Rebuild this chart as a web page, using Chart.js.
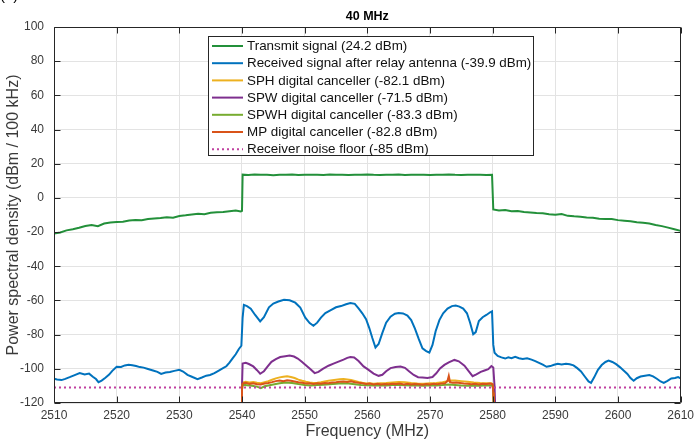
<!DOCTYPE html>
<html>
<head>
<meta charset="utf-8">
<script src="https://cdn.jsdelivr.net/npm/chart.js@4.4.0/dist/chart.umd.min.js"></script>
<style>
  html, body { margin: 0; padding: 0; background: #fff; }
</style>
</head>
<body>
<canvas id="psdChart" width="699" height="443"></canvas>
<script>
// series labels (legend order = plot order)
const seriesLabels = [
  'Transmit signal (24.2 dBm)',
  'Received signal after relay antenna (-39.9 dBm)',
  'SPH digital canceller (-82.1 dBm)',
  'SPW digital canceller (-71.5 dBm)',
  'SPWH digital canceller (-83.3 dBm)',
  'MP digital canceller (-82.8 dBm)',
  'Receiver noise floor (-85 dBm)'
];
const seriesColors = ['#23903a', '#0072bd', '#edb120', '#7e2f8e', '#77ac30', '#d95319', '#c040a0'];

// transmit signal
const txFreq = [2510, 2511, 2512, 2513, 2514, 2515, 2516, 2517, 2518, 2519, 2520, 2521, 2522, 2523, 2524, 2525,
  2526, 2527, 2528, 2529, 2530, 2531, 2532, 2533, 2534, 2535, 2536, 2537, 2538, 2539, 2539.8, 2540.0,
  2540.1, 2541, 2542, 2543, 2544, 2545, 2546, 2547, 2548, 2549, 2550, 2551, 2552, 2553, 2554, 2555, 2556,
  2557, 2558, 2559, 2560, 2561, 2562, 2563, 2564, 2565, 2566, 2567, 2568, 2569, 2570, 2571, 2572, 2573,
  2574, 2575, 2576, 2577, 2578, 2579, 2579.9, 2580.1, 2581, 2582, 2583, 2584, 2585, 2586, 2587, 2588,
  2589, 2590, 2591, 2592, 2593, 2594, 2595, 2596, 2597, 2598, 2599, 2600, 2601, 2602, 2603, 2604, 2605,
  2606, 2607, 2608, 2609, 2610];
const txPsd = [-20.8, -20.2, -19.0, -18.3, -17.5, -16.4, -15.8, -16.6, -15.0, -14.4, -14.1, -13.9, -13.2, -12.9, -13.1, -12.4,
  -12.0, -11.8, -11.3, -11.6, -10.6, -10.2, -9.7, -9.3, -9.5, -8.7, -8.4, -8.2, -7.8, -7.4, -7.9, -7.6,
  13.6, 13.4, 13.7, 13.5, 13.6, 13.3, 13.6, 13.5, 13.7, 13.4, 13.6, 13.5, 13.6, 13.4, 13.7, 13.5, 13.6,
  13.4, 13.6, 13.5, 13.7, 13.5, 13.4, 13.6, 13.5, 13.7, 13.4, 13.6, 13.5, 13.6, 13.4, 13.6, 13.5, 13.7,
  13.5, 13.4, 13.6, 13.5, 13.6, 13.4, 13.5, -6.8, -7.4, -7.1, -7.8, -7.6, -8.3, -8.6, -8.9, -9.0,
  -9.6, -9.9, -9.4, -10.5, -10.8, -11.0, -11.4, -11.6, -12.2, -12.4, -12.3, -13.0, -13.3, -13.6, -14.2, -14.6, -15.0,
  -15.9, -16.5, -17.4, -18.3, -19.3];

// received signal after relay antenna
const rxFreq = [2510, 2510.5, 2511.2, 2511.8, 2512.5, 2513.2, 2514.1, 2514.9, 2515.6, 2516.2, 2516.7, 2517.1, 2517.6,
  2518.2, 2518.8, 2519.3, 2520, 2520.7, 2521.3, 2521.9, 2522.5, 2523.1, 2523.7, 2524.3, 2525, 2525.8, 2526.5,
  2527.1, 2527.8, 2528.5, 2529.2, 2530, 2530.6, 2531.3, 2532.1, 2532.9, 2533.6, 2534.3, 2534.9, 2535.6,
  2536.3, 2536.9, 2537.5, 2538, 2538.5, 2539, 2539.5, 2539.9, 2540.1, 2540.3, 2540.8, 2541.4, 2542.1,
  2542.9, 2543.5, 2544.3, 2545, 2545.8, 2546.7, 2547.6, 2548.5, 2549.3, 2550.1, 2550.8, 2551.4, 2552,
  2552.6, 2553.3, 2554.1, 2555, 2555.8, 2556.6, 2557.3, 2558, 2558.6, 2559.2, 2559.8, 2560.3, 2560.8,
  2561.3, 2561.8, 2562.4, 2563, 2563.7, 2564.4, 2565, 2565.7, 2566.4, 2567, 2567.6, 2568.2, 2568.8,
  2569.4, 2569.9, 2570.4, 2570.9, 2571.5, 2572.1, 2572.8, 2573.5, 2574.1, 2574.7, 2575.3, 2575.9,
  2576.4, 2576.9, 2577.3, 2577.8, 2578.4, 2579, 2579.6, 2579.9, 2580.1, 2580.3, 2580.8, 2581.4, 2582,
  2582.5, 2583, 2583.6, 2584.2, 2584.8, 2585.5, 2586.2, 2586.8, 2587.4, 2588, 2588.6, 2589.2, 2589.8,
  2590.4, 2591, 2591.7, 2592.3, 2592.9, 2593.5, 2594.1, 2594.7, 2595.3, 2595.7, 2596.2, 2596.8, 2597.4,
  2598, 2598.5, 2599.1, 2599.7, 2600.3, 2600.9, 2601.5, 2602, 2602.5, 2603, 2603.6, 2604.3, 2605,
  2605.6, 2606.2, 2606.8, 2607.3, 2607.9, 2608.5, 2609.1, 2609.6, 2610];
const rxPsd = [-105.8, -106.2, -106.6, -105.9, -104.9, -103.8, -102.5, -103.3, -102.8, -104.6, -106.0, -107.8, -106.9,
  -105.2, -103.4, -101.2, -98.8, -98.9, -98.0, -97.6, -97.9, -98.4, -99.0, -99.3, -100.1, -101.0, -101.8,
  -103.0, -102.2, -101.9, -101.2, -100.6, -101.6, -103.5, -104.8, -106.0, -105.1, -104.0, -103.6, -102.5,
  -101.0, -99.8, -98.5, -96.4, -93.9, -91.5, -88.4, -86.5, -70.0, -62.6, -63.3, -64.8, -68.5,
  -72.3, -69.8, -64.0, -61.8, -60.6, -59.6, -59.9, -61.3, -64.2, -70.1, -73.2, -74.8, -73.0,
  -70.0, -67.4, -65.8, -64.0, -63.3, -62.2, -61.5, -62.0, -64.6, -67.5, -71.0, -76.0, -82.0,
  -87.5, -85.5, -79.0, -73.0, -69.5, -67.8, -67.3, -67.6, -68.8, -71.5, -76.5, -82.5, -88.0,
  -89.6, -90.5, -86.0, -78.0, -71.5, -67.5, -64.8, -63.3, -63.0, -63.6, -64.8, -67.5,
  -73.0, -79.8, -78.5, -72.0, -69.8, -68.5, -66.9, -66.4, -86.0, -90.6, -92.5, -93.3, -94.0,
  -93.3, -93.8, -93.0, -93.8, -94.2, -93.8, -94.6, -95.5, -96.5, -97.6, -98.8, -98.4, -97.6,
  -97.0, -97.4, -97.0, -97.3, -98.0, -99.6, -101.5, -104.5, -107.4, -108.2, -105.0, -100.6, -97.8,
  -96.0, -95.2, -96.0, -97.3, -99.0, -101.0, -103.0, -105.4, -107.0, -105.5, -104.5, -104.0, -103.6,
  -104.4, -105.8, -107.4, -108.2, -107.0, -105.6, -105.4, -104.8, -105.6];

// SPH digital canceller
const sphFreq = [2539.9, 2540.0, 2540.1, 2540.6, 2541.2, 2541.8, 2542.4, 2543, 2543.6, 2544.2, 2544.8, 2545.4, 2546,
  2546.6, 2547.2, 2547.8, 2548.4, 2549, 2549.6, 2550.2, 2550.8, 2551.4, 2552, 2552.6, 2553.2, 2553.8, 2554.4,
  2555, 2555.6, 2556.2, 2556.8, 2557.4, 2558, 2558.6, 2559.2, 2559.8, 2560.4, 2561, 2562, 2563, 2564, 2565,
  2566, 2567, 2568, 2569, 2570, 2571, 2572, 2572.8, 2573.4, 2574, 2575, 2576, 2577, 2578, 2579, 2579.8,
  2580.0, 2580.1, 2580.2];
const sphPsd = [-121, -112, -108.0, -107.6, -108.0, -107.7, -108.2, -108.4, -107.8, -107.2, -106.4, -105.6, -105.0,
  -104.6, -104.3, -104.8, -105.4, -106.3, -107.0, -107.6, -108.0, -108.3, -108.1, -107.8, -107.4, -107.0, -106.7,
  -106.4, -106.1, -105.9, -106.2, -106.6, -107.1, -107.7, -108.2, -108.6, -108.4, -108.7, -108.5, -108.3, -108.0, -107.7,
  -107.9, -108.3, -108.6, -108.8, -108.5, -108.3, -107.9, -107.3, -106.8, -106.9, -107.2, -107.6, -108.0, -108.3, -108.5, -108.4,
  -109, -114, -122];

// SPW digital canceller
const spwFreq = [2539.9, 2540.0, 2540.1, 2540.6, 2541.1, 2541.8, 2542.4, 2542.9, 2543.5, 2544.1, 2544.7, 2545.4, 2546.1,
  2546.9, 2547.6, 2548.3, 2548.9, 2549.5, 2550.1, 2550.8, 2551.6, 2552.2, 2552.9, 2553.8, 2554.6, 2555.4,
  2556.2, 2556.8, 2557.3, 2557.9, 2558.6, 2559.4, 2560.2, 2561, 2561.8, 2562.4, 2563, 2563.7, 2564.5,
  2565.3, 2566, 2566.7, 2567.4, 2568.1, 2568.8, 2569.6, 2570.4, 2571, 2571.6, 2572.3, 2573, 2573.9,
  2574.6, 2575.5, 2576.2, 2576.8, 2577.4, 2578.1, 2578.7, 2579.3, 2579.8, 2580.1, 2580.3, 2580.4];
const spwPsd = [-121, -110, -96.9, -96.5, -97.2, -98.6, -100.8, -102.9, -101.4, -98.6, -95.9, -94.3, -93.1,
  -92.6, -92.2, -92.8, -94.0, -95.7, -97.6, -99.8, -102.5, -101.8, -100.0, -98.2, -97.0, -95.8,
  -94.6, -93.6, -93.1, -93.4, -95.4, -98.6, -100.6, -102.8, -104.1, -103.5, -101.4, -99.6, -98.9,
  -98.6, -99.4, -101.6, -103.6, -104.9, -105.1, -105.4, -104.8, -102.6, -99.8, -97.7, -96.2, -94.8,
  -95.6, -98.2, -101.5, -104.3, -103.2, -101.8, -101.0, -100.2, -98.4, -99.2, -110, -122];

// SPWH digital canceller
const spwhFreq = [2539.9, 2540.0, 2540.1, 2540.8, 2541.6, 2542.4, 2543, 2543.6, 2544.4, 2545.2, 2546, 2547, 2548, 2549,
  2550, 2551, 2552, 2553, 2554, 2555, 2556, 2557, 2558, 2559, 2560, 2561, 2562, 2563, 2564, 2565, 2566,
  2567, 2568, 2569, 2570, 2571, 2572, 2573, 2574, 2575, 2576, 2577, 2578, 2579, 2580, 2580.1, 2580.2];
const spwhPsd = [-121, -112, -109.3, -109.6, -109.9, -110.4, -111.3, -110.2, -109.6, -109.0, -108.4, -108.0, -108.3, -108.9,
  -109.4, -109.8, -109.5, -109.3, -109.0, -108.7, -108.5, -108.6, -109.0, -109.4, -109.6, -109.8, -109.6, -109.7, -109.4, -109.5, -109.6,
  -109.8, -109.7, -109.9, -109.6, -109.7, -109.5, -109.2, -109.4, -109.7, -109.9, -109.8, -109.9, -109.6, -109.7, -114, -122];

// MP digital canceller
const mpFreq = [2539.9, 2540.0, 2540.1, 2540.6, 2541.2, 2541.8, 2542.4, 2543, 2543.6, 2544.2, 2544.8, 2545.4, 2546,
  2546.6, 2547.2, 2547.8, 2548.4, 2549, 2549.6, 2550.2, 2550.8, 2551.4, 2552, 2552.6, 2553.2, 2553.8, 2554.4,
  2555, 2555.6, 2556.2, 2556.8, 2557.4, 2558, 2558.6, 2559.2, 2559.8, 2560.4, 2561, 2561.6, 2562.2, 2562.8,
  2563.4, 2564, 2564.6, 2565.2, 2565.8, 2566.4, 2567, 2567.6, 2568.2, 2568.8, 2569.4, 2570, 2570.6, 2571.2,
  2571.8, 2572.4, 2572.8, 2573.0, 2573.2, 2573.6, 2574.2, 2574.8, 2575.4, 2576, 2576.6, 2577.2, 2577.8,
  2578.4, 2579, 2579.6, 2580.0, 2580.1, 2580.2];
const mpPsd = [-121, -112, -108.6, -108.2, -108.8, -108.4, -109.0, -109.2, -108.6, -108.3, -107.8, -107.2, -106.9,
  -107.3, -106.7, -107.0, -107.4, -107.9, -108.2, -108.6, -108.4, -108.9, -108.5, -108.7, -108.3, -108.5, -108.0,
  -107.9, -107.6, -107.4, -107.7, -107.3, -107.8, -108.2, -108.4, -108.9, -108.6, -109.1, -108.8, -109.2, -108.9,
  -109.0, -108.7, -108.9, -108.6, -109.1, -108.8, -109.2, -108.9, -109.0, -109.3, -108.9, -109.1, -108.7, -109.0,
  -108.6, -108.5, -107.0, -104.2, -107.8, -108.2, -108.0, -108.3, -108.6, -108.8, -109.0, -108.7, -109.1,
  -108.8, -108.9, -108.6, -109.0, -114, -122];

// receiver noise floor
const floorFreq = [2510, 2610];
const floorPsd = [-111, -111];

const toPoints = (xs, ys) => xs.map((x, i) => ({ x: x, y: ys[i] }));

const seriesData = [
  toPoints(txFreq, txPsd),
  toPoints(rxFreq, rxPsd),
  toPoints(sphFreq, sphPsd),
  toPoints(spwFreq, spwPsd),
  toPoints(spwhFreq, spwhPsd),
  toPoints(mpFreq, mpPsd),
  toPoints(floorFreq, floorPsd)
];

const FONT = '"Liberation Sans", Arial, Helvetica, sans-serif';
const AXIS_COLOR = '#262626';
const TEXT_COLOR = '#3a3a3a';

// matlab-ish box, inward ticks, title, legend
const matlabBits = {
  id: 'matlabBits',
  afterDraw(chart) {
    const ctx = chart.ctx;
    const a = chart.chartArea;
    const xs = chart.scales.x, ys = chart.scales.y;
    const L = Math.round(a.left) + 0.5, R = Math.round(a.right) - 0.5;
    const T = Math.round(a.top) + 0.5, B = Math.round(a.bottom) - 0.5;
    ctx.save();
    ctx.strokeStyle = AXIS_COLOR;
    ctx.lineWidth = 1;
    ctx.beginPath();
    ctx.rect(L, T, R - L, B - T);
    xs.ticks.forEach(t => {
      const px = Math.round(xs.getPixelForValue(t.value)) + 0.5;
      ctx.moveTo(px, B); ctx.lineTo(px, B - 6);
      ctx.moveTo(px, T); ctx.lineTo(px, T + 6);
    });
    ys.ticks.forEach(t => {
      const py = Math.round(ys.getPixelForValue(t.value)) + 0.5;
      ctx.moveTo(L, py); ctx.lineTo(L + 6, py);
      ctx.moveTo(R, py); ctx.lineTo(R - 6, py);
    });
    ctx.stroke();

    // title
    ctx.fillStyle = '#000';
    ctx.font = 'bold 12.5px ' + FONT;
    ctx.textAlign = 'center';
    ctx.textBaseline = 'middle';
    ctx.fillText('40 MHz', (a.left + a.right) / 2, 16.5);

    // panel letter, cut off at top
    ctx.textAlign = 'left';
    ctx.textBaseline = 'alphabetic';
    ctx.font = '15px ' + FONT;
    ctx.fillText('(a)', 0, 0);

    // legend box
    const bx = 208.5, by = 36.5, bw = 325, bh = 119;
    ctx.fillStyle = '#fff';
    ctx.fillRect(bx, by, bw, bh);
    ctx.strokeStyle = AXIS_COLOR;
    ctx.strokeRect(bx, by, bw, bh);
    ctx.font = '13.4px ' + FONT;
    ctx.textBaseline = 'middle';
    chart.data.datasets.forEach((ds, i) => {
      const ry = 46 + i * 17.2;
      ctx.strokeStyle = ds.borderColor;
      ctx.lineWidth = ds.borderWidth;
      ctx.setLineDash(ds.borderDash || []);
      ctx.beginPath();
      ctx.moveTo(212, ry); ctx.lineTo(243, ry);
      ctx.stroke();
      ctx.setLineDash([]);
      ctx.fillStyle = '#111';
      ctx.fillText(ds.label, 247, ry + 0.5);
    });
    ctx.restore();
  }
};

const datasets = seriesLabels.map((label, i) => ({
  label: label,
  data: seriesData[i],
  borderColor: seriesColors[i],
  backgroundColor: seriesColors[i],
  borderWidth: 2,
  borderDash: i === 6 ? [2, 3] : undefined,
  pointRadius: 0,
  tension: 0,
  fill: false,
  order: 6 - i   // later series on top, like matlab
}));

new Chart(document.getElementById('psdChart'), {
  type: 'line',
  data: { datasets: datasets },
  options: {
    responsive: false,
    animation: false,
    devicePixelRatio: 1,
    layout: { padding: { top: 27, right: 15, left: 0, bottom: 0 } },
    plugins: {
      legend: { display: false },
      tooltip: { enabled: false }
    },
    scales: {
      x: {
        type: 'linear',
        min: 2510, max: 2610,
        ticks: { stepSize: 10, color: TEXT_COLOR, font: { family: FONT, size: 12 }, padding: 5, maxRotation: 0,
          callback: v => String(v) },
        grid: { color: '#e3e3e3', drawTicks: false },
        border: { display: false },
        title: { display: true, text: 'Frequency (MHz)', color: TEXT_COLOR, font: { family: FONT, size: 16 }, padding: { top: 0, bottom: 2 } },
        afterFit: s => { s.height = 40; }
      },
      y: {
        type: 'linear',
        min: -120, max: 100,
        ticks: { stepSize: 20, color: TEXT_COLOR, font: { family: FONT, size: 12 }, padding: 10 },
        grid: { color: '#e3e3e3', drawTicks: false },
        border: { display: false },
        title: { display: true, text: 'Power spectral density (dBm / 100 kHz)', color: TEXT_COLOR, font: { family: FONT, size: 16 }, padding: { top: 4, bottom: 0 } },
        afterFit: s => { s.width = 54; }
      }
    }
  },
  plugins: [matlabBits]
});
</script>
</body>
</html>
